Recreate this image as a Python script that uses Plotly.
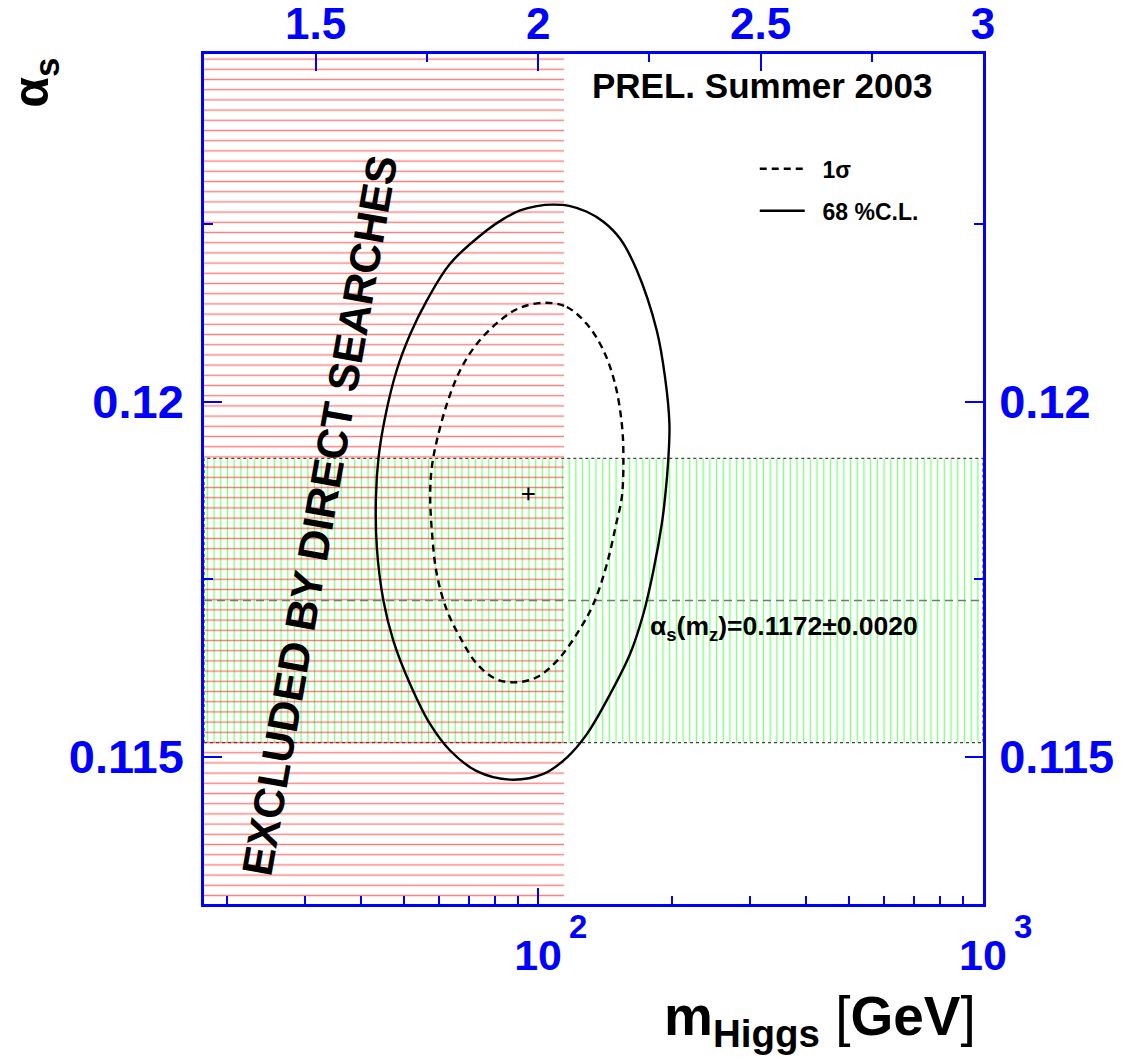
import numpy as np
import plotly.graph_objects as go

# ---------------- data ----------------
X_LOG_RANGE = [1.249, 3.0]          # log10(m_H / GeV) shown
Y_RANGE = [0.11293, 0.12489]        # alpha_s shown

MH_LIMIT = 114.4                    # direct search exclusion (GeV)
ALPHA_S_MZ = 0.1172
ALPHA_S_ERR = 0.0020

FIT_MH = [95.1]
FIT_AS = [0.11870]

# 68 % C.L. contour (solid)
CL68_MH = [108.2, 118.0, 128.7, 140.2, 152.9, 166.6, 184.8, 192.9, 197.3,
           196.3, 192.9, 189.7, 181.6, 172.4, 161.0, 145.1, 128.7, 116.0, 102.8,
           86.5, 72.8, 63.4, 57.2, 51.6, 47.3, 44.9, 43.4, 43.2, 43.8,
           45.3, 48.1, 51.6, 56.2, 63.4, 76.7, 83.6, 91.1, 99.3, 108.2]
CL68_AS = [0.12277, 0.12275, 0.12267, 0.12253, 0.12229, 0.12185, 0.12100, 0.12034, 0.11969,
           0.11922, 0.11865, 0.11828, 0.11762, 0.11701, 0.11645, 0.11588, 0.11532, 0.11499, 0.11476,
           0.11468, 0.11480, 0.11509, 0.11546, 0.11602, 0.11663, 0.11720, 0.11795, 0.11865, 0.11922,
           0.11978, 0.12044, 0.12095, 0.12142, 0.12194, 0.12241, 0.12257, 0.12269, 0.12275, 0.12277]

# 1 sigma contour (dashed)
S1_MH = [103.7, 116.0, 128.7, 140.2, 148.9, 154.2, 155.5, 154.2, 150.3, 142.7,
         133.1, 122.2, 110.2, 99.3, 89.6, 80.8, 72.8, 66.8, 62.4, 59.2,
         57.7, 57.2, 57.7, 59.2, 62.4, 66.8, 72.8, 82.1, 91.1, 103.7]
S1_AS = [0.12139, 0.12133, 0.12109, 0.12072, 0.12025, 0.11969, 0.11922, 0.11865, 0.11832, 0.11771,
         0.11715, 0.11673, 0.11635, 0.11612, 0.11605, 0.11609, 0.11631, 0.11668, 0.11706, 0.11757,
         0.11818, 0.11870, 0.11908, 0.11945, 0.11997, 0.12044, 0.12081, 0.12114, 0.12132, 0.12139]

X_MAJOR = [100, 1000]
X_MAJOR_TEXT = ["10", "10"]
X_MAJOR_EXP = ["2", "3"]
X_MINOR = [20, 30, 40, 50, 60, 70, 80, 90, 200, 300, 400, 500, 600, 700, 800, 900]
TOP_MAJOR = [1.5, 2.0, 2.5, 3.0]
TOP_MAJOR_TEXT = ["1.5", "2", "2.5", "3"]
TOP_MINOR = [1.75, 2.25, 2.75]
Y_MAJOR = [0.115, 0.12]
Y_MAJOR_TEXT = ["0.115", "0.12"]
Y_MINOR = [0.1175, 0.1225]

# ---------------- styles ----------------
BLUE = "#0000ff"
FONT = "Liberation Sans, Arial, Helvetica, sans-serif"
PAD = "\u00a0\u00a0"

x_lo, x_hi = 10 ** X_LOG_RANGE[0], 10 ** X_LOG_RANGE[1]
y_lo, y_hi = Y_RANGE
band_lo, band_hi = ALPHA_S_MZ - ALPHA_S_ERR, ALPHA_S_MZ + ALPHA_S_ERR

fig = go.Figure()

# alpha_s(mZ) band (green vertical hatch)
fig.add_trace(go.Scatter(
    x=[x_lo, x_hi, x_hi, x_lo, x_lo], y=[band_lo, band_lo, band_hi, band_hi, band_lo],
    mode="lines", fill="toself", fillcolor="rgba(0,0,0,0)",
    fillpattern=dict(shape="|", size=6.7, solidity=0.2, fgcolor="#00ff00",
                     bgcolor="rgba(0,0,0,0)", fillmode="overlay"),
    line=dict(color="#444444", width=1.3, dash="dot"),
    showlegend=False, hoverinfo="skip"))

# excluded region (red horizontal hatch)
fig.add_trace(go.Scatter(
    x=[x_lo, MH_LIMIT, MH_LIMIT, x_lo, x_lo], y=[y_lo, y_lo, y_hi, y_hi, y_lo],
    mode="lines", fill="toself", fillcolor="rgba(0,0,0,0)",
    fillpattern=dict(shape="-", size=10.2, solidity=0.14, fgcolor="#ff0000",
                     bgcolor="rgba(0,0,0,0)", fillmode="overlay"),
    line=dict(width=0, color="rgba(0,0,0,0)"),
    showlegend=False, hoverinfo="skip"))

# central alpha_s value
fig.add_trace(go.Scatter(
    x=[x_lo, x_hi], y=[ALPHA_S_MZ, ALPHA_S_MZ], mode="lines",
    line=dict(color="#777777", width=1.5, dash="8px,5px"),
    showlegend=False, hoverinfo="skip"))

DASHED = dict(color="black", width=2.4, dash="7px,5px", shape="spline", smoothing=1.0)
SOLID = dict(color="black", width=2.4, shape="spline", smoothing=1.0)

# contours
fig.add_trace(go.Scatter(x=S1_MH, y=S1_AS, mode="lines", line=DASHED,
                         showlegend=False, hoverinfo="skip"))
fig.add_trace(go.Scatter(x=CL68_MH, y=CL68_AS, mode="lines", line=SOLID,
                         showlegend=False, hoverinfo="skip"))

# legend entries
fig.add_trace(go.Scatter(x=[None], y=[None], mode="lines", name=PAD + "1σ",
                         legend="legend", line=DASHED))
fig.add_trace(go.Scatter(x=[None], y=[None], mode="lines", name=PAD + "68 %C.L.",
                         legend="legend2", line=SOLID))

# best fit
fig.add_trace(go.Scatter(
    x=FIT_MH, y=FIT_AS, mode="markers",
    marker=dict(symbol="cross-thin", size=9, line=dict(color="black", width=2)),
    showlegend=False, hoverinfo="skip"))

# dummy (invisible) trace for the secondary axes
fig.add_trace(go.Scatter(
    x=TOP_MAJOR, y=[ALPHA_S_MZ] * len(TOP_MAJOR), xaxis="x2", yaxis="y2",
    mode="markers", marker=dict(opacity=0), showlegend=False, hoverinfo="skip"))

tick_common = dict(showgrid=False, zeroline=False, showline=True, linecolor=BLUE,
                   linewidth=2.5, ticks="inside", tickwidth=2, tickcolor=BLUE,
                   automargin=False)

fig.update_layout(
    width=1135, height=1061,
    margin=dict(l=204, r=152, t=54, b=157, autoexpand=False),
    paper_bgcolor="white", plot_bgcolor="white",
    font=dict(family=FONT, color="black", weight="bold"),
    xaxis=dict(type="log", range=X_LOG_RANGE, tickvals=X_MAJOR, ticktext=X_MAJOR_TEXT,
               ticklen=16, tickfont=dict(size=43, color=BLUE, family=FONT, weight="bold"),
               ticklabelstandoff=12,
               minor=dict(tickvals=X_MINOR, ticks="inside", ticklen=8, tickwidth=2,
                          tickcolor=BLUE, showgrid=False),
               **tick_common),
    xaxis2=dict(overlaying="x", side="top", anchor="y", range=X_LOG_RANGE,
                tickvals=TOP_MAJOR, ticktext=TOP_MAJOR_TEXT, ticklen=17,
                tickfont=dict(size=44, color=BLUE, family=FONT, weight="bold"),
                ticklabelstandoff=-5,
                minor=dict(tickvals=TOP_MINOR, ticks="inside", ticklen=8, tickwidth=2,
                           tickcolor=BLUE, showgrid=False),
                **tick_common),
    yaxis=dict(range=Y_RANGE, tickvals=Y_MAJOR, ticktext=Y_MAJOR_TEXT, ticklen=18,
               tickfont=dict(size=47, color=BLUE, family=FONT, weight="bold"),
               ticklabelstandoff=8,
               minor=dict(tickvals=Y_MINOR, ticks="inside", ticklen=9, tickwidth=2,
                          tickcolor=BLUE, showgrid=False),
               **tick_common),
    yaxis2=dict(overlaying="y", side="right", anchor="x", range=Y_RANGE,
                tickvals=Y_MAJOR, ticktext=Y_MAJOR_TEXT, ticklen=18,
                tickfont=dict(size=47, color=BLUE, family=FONT, weight="bold"),
                ticklabelstandoff=4,
                minor=dict(tickvals=Y_MINOR, ticks="inside", ticklen=9, tickwidth=2,
                           tickcolor=BLUE, showgrid=False),
                **tick_common),
    legend=dict(x=0.707, y=0.8649, xanchor="left", yanchor="middle",
                bgcolor="rgba(0,0,0,0)", borderwidth=0, itemwidth=45,
                font=dict(size=23, family=FONT, color="black", weight="bold")),
    legend2=dict(x=0.707, y=0.8155, xanchor="left", yanchor="middle",
                 bgcolor="rgba(0,0,0,0)", borderwidth=0, itemwidth=45,
                 font=dict(size=23, family=FONT, color="black", weight="bold")),
)

annotations = [
    dict(text="PREL. Summer 2003", xref="paper", yref="paper", x=0.4955, y=0.9624,
         xanchor="left", yanchor="middle", showarrow=False,
         font=dict(size=35, family=FONT, color="black", weight="bold")),
    dict(text="α<sub>s</sub>(m<sub>z</sub>)=%.4f±%.4f" % (ALPHA_S_MZ, ALPHA_S_ERR),
         xref="paper", yref="paper", x=0.5697, y=0.3243,
         xanchor="left", yanchor="middle", showarrow=False,
         font=dict(size=26.5, family=FONT, color="black", weight="bold")),
    dict(text="EXCLUDED BY DIRECT SEARCHES", xref="paper", yref="paper",
         x=0.1489, y=0.4571, xanchor="center", yanchor="middle", textangle=-80,
         showarrow=False, font=dict(size=43, family=FONT, color="black", weight="bold")),
    dict(text="α<sub>s</sub>", xref="paper", yref="paper", x=-0.217, y=0.966,
         xanchor="center", yanchor="middle", textangle=-90, showarrow=False,
         font=dict(size=50, family=FONT, color="black", weight="bold")),
    dict(text='m<sub>Higgs</sub> <span style="font-weight:normal">[</span>GeV'
              '<span style="font-weight:normal">]</span>',
         xref="paper", yref="paper", x=0.9936, y=-0.0928,
         xanchor="right", yanchor="top", showarrow=False,
         font=dict(size=55, family=FONT, color="black", weight="bold")),
]
for v, e in zip(X_MAJOR, X_MAJOR_EXP):
    annotations.append(dict(text=e, xref="x", yref="paper", x=np.log10(v), y=-0.0259,
                            xshift=40, xanchor="center", yanchor="middle", showarrow=False,
                            font=dict(size=33, family=FONT, color=BLUE, weight="bold")))
fig.update_layout(annotations=annotations)

fig.write_html("out.html")
